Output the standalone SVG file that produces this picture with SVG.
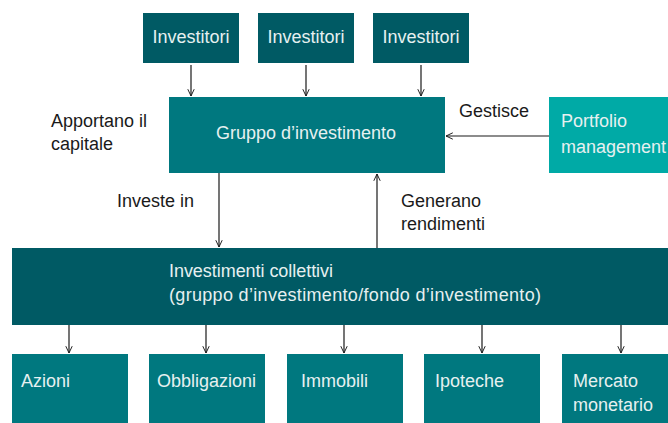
<svg xmlns="http://www.w3.org/2000/svg" width="668" height="423" viewBox="0 0 668 423">
<style>
  text { font-family: "Liberation Sans", Arial, sans-serif; font-size: 18px; }
  .lt { fill: #e6f0f0; }
  .dk { fill: #1a1a1a; }
  .inv { fill: #005a64; }
  .mid { fill: #00787f; }
  .pm { fill: #00aaa6; }
  .conn line { stroke: #1a1a1a; stroke-width: 1.2; fill: none; marker-end: url(#arr); }
</style>
<defs>
  <marker id="arr" viewBox="0 0 10 10" refX="9.5" refY="5" markerWidth="8" markerHeight="8" markerUnits="userSpaceOnUse" orient="auto">
    <path d="M1,1 L9.5,5 L1,9" fill="none" stroke="#1a1a1a" stroke-width="1.2"/>
  </marker>
</defs>
<rect width="668" height="423" fill="#ffffff"/>

<g id="investitori1"><rect class="inv" x="143" y="13" width="96" height="50"/><text class="lt" x="191" y="43" text-anchor="middle">Investitori</text></g>
<g id="investitori2"><rect class="inv" x="258" y="13" width="96" height="50"/><text class="lt" x="306" y="43" text-anchor="middle">Investitori</text></g>
<g id="investitori3"><rect class="inv" x="373" y="13" width="96" height="50"/><text class="lt" x="421" y="43" text-anchor="middle">Investitori</text></g>

<g id="gruppo"><rect class="mid" x="169" y="97" width="276" height="76"/><text class="lt" x="306" y="139" text-anchor="middle">Gruppo d’investimento</text></g>

<g id="portfolio"><rect class="pm" x="549" y="97" width="125" height="76"/><text class="lt" x="561" y="127">Portfolio</text><text class="lt" x="561" y="153">management</text></g>

<g id="collettivi"><rect class="inv" x="12" y="248" width="662" height="77"/><text class="lt" x="169" y="277" textLength="164" lengthAdjust="spacing">Investimenti collettivi</text><text class="lt" x="169" y="301" textLength="372" lengthAdjust="spacing">(gruppo d’investimento/fondo d’investimento)</text></g>

<g id="azioni"><rect class="mid" x="12" y="354" width="116" height="75"/><text class="lt" x="21" y="387">Azioni</text></g>
<g id="obbligazioni"><rect class="mid" x="149" y="354" width="116" height="75"/><text class="lt" x="157" y="387">Obbligazioni</text></g>
<g id="immobili"><rect class="mid" x="287" y="354" width="116" height="75"/><text class="lt" x="301" y="387">Immobili</text></g>
<g id="ipoteche"><rect class="mid" x="424" y="354" width="116" height="75"/><text class="lt" x="435" y="387">Ipoteche</text></g>
<g id="mercato"><rect class="mid" x="562" y="354" width="112" height="75"/><text class="lt" x="573" y="387">Mercato</text><text class="lt" x="573" y="411">monetario</text></g>

<g id="labels">
  <text class="dk" x="51" y="127">Apportano il</text>
  <text class="dk" x="51" y="150">capitale</text>
  <text class="dk" x="459" y="117">Gestisce</text>
  <text class="dk" x="117" y="207">Investe in</text>
  <text class="dk" x="401" y="207">Generano</text>
  <text class="dk" x="401" y="230">rendimenti</text>
</g>

<g id="connectors" class="conn">
  <line x1="191" y1="65" x2="191" y2="96"/>
  <line x1="306" y1="65" x2="306" y2="96"/>
  <line x1="421" y1="65" x2="421" y2="96"/>
  <line x1="549" y1="136" x2="446" y2="136"/>
  <line x1="219" y1="173" x2="219" y2="247"/>
  <line x1="377" y1="248" x2="377" y2="174"/>
  <line x1="69" y1="325" x2="69" y2="353"/>
  <line x1="206" y1="325" x2="206" y2="353"/>
  <line x1="344" y1="325" x2="344" y2="353"/>
  <line x1="482" y1="325" x2="482" y2="353"/>
  <line x1="621" y1="325" x2="621" y2="353"/>
</g>
</svg>
